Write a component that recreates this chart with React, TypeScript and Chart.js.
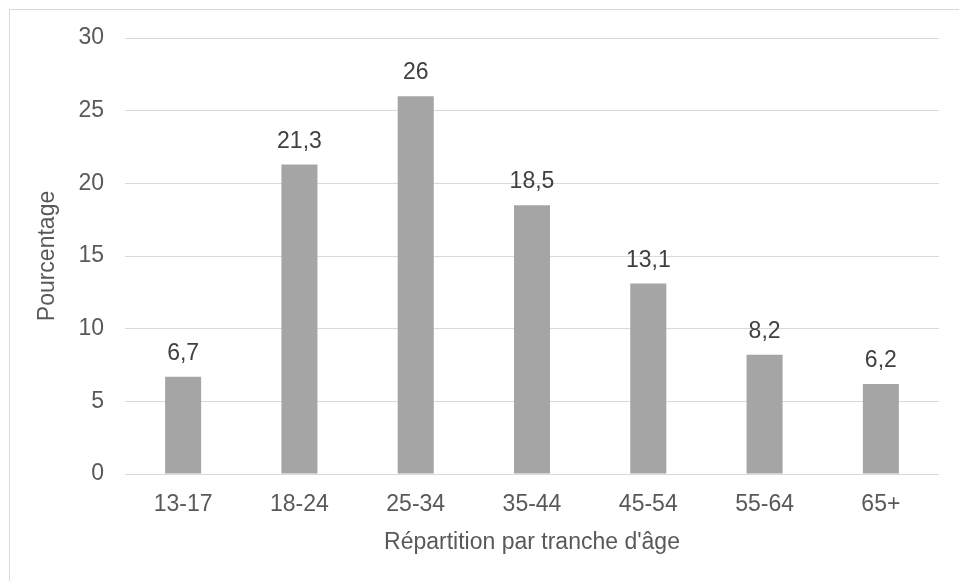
import React, { useEffect, useRef } from "react";
import { Chart, registerables } from "chart.js";

Chart.register(...registerables);

const categories = ["13-17", "18-24", "25-34", "35-44", "45-54", "55-64", "65+"];
const values = [6.7, 21.3, 26, 18.5, 13.1, 8.2, 6.2];
const valueLabels = ["6,7", "21,3", "26", "18,5", "13,1", "8,2", "6,2"];
const yTicks = [0, 5, 10, 15, 20, 25, 30];

const FONT = "'Liberation Sans', Arial, sans-serif";
const FS = 23;

const dataLabelPlugin = {
  id: "dataLabels",
  afterDatasetsDraw(chart: any) {
    const ctx = chart.ctx;
    const meta = chart.getDatasetMeta(0);
    ctx.save();
    ctx.font = `${FS}px ${FONT}`;
    ctx.fillStyle = "#404040";
    ctx.textAlign = "center";
    ctx.textBaseline = "middle";
    meta.data.forEach((bar: any, i: number) => {
      ctx.fillText(valueLabels[i], bar.x, bar.y - 23);
    });
    ctx.restore();
  },
};

export default function App() {
  const ref = useRef<HTMLCanvasElement | null>(null);
  useEffect(() => {
    document.body.style.margin = "0";
    const chart = new Chart(ref.current!, {
      type: "bar",
      data: {
        labels: categories,
        datasets: [
          {
            data: values,
            backgroundColor: "#a5a5a5",
            barPercentage: 0.62,
            categoryPercentage: 0.5,
          },
        ],
      },
      options: {
        animation: false,
        responsive: false,
        maintainAspectRatio: false,
        layout: { padding: { left: 0, top: 38, right: 20, bottom: 0 } },
        plugins: { legend: { display: false }, tooltip: { enabled: false } },
        scales: {
          x: {
            grid: { display: false, drawTicks: false },
            border: { display: false },
            ticks: {
              color: "#595959",
              font: { family: FONT, size: FS },
              padding: 17,
              maxRotation: 0,
            },
            title: {
              display: true,
              text: "Répartition par tranche d'âge",
              color: "#595959",
              font: { family: FONT, size: FS },
              padding: { top: 0, bottom: 25 },
            },
            afterFit: (s: any) => {
              s.height = 107;
            },
          },
          y: {
            min: 0,
            max: 30,
            afterBuildTicks: (s: any) => {
              s.ticks = yTicks.map((v) => ({ value: v }));
            },
            grid: { color: "#d9d9d9", lineWidth: 1, drawTicks: false },
            border: { display: false },
            ticks: {
              color: "#595959",
              font: { family: FONT, size: FS },
              padding: 21,
            },
            title: {
              display: true,
              text: "Pourcentage",
              color: "#595959",
              font: { family: FONT, size: FS },
              padding: { top: 34, bottom: 0 },
            },
            afterFit: (s: any) => {
              s.width = 125;
            },
          },
        },
      },
      plugins: [dataLabelPlugin],
    });
    return () => chart.destroy();
  }, []);
  return (
    <div style={{ position: "relative", width: 959, height: 581, overflow: "hidden", background: "#fff" }}>
      <div
        style={{
          position: "absolute",
          left: 9,
          top: 9,
          width: 1000,
          height: 1000,
          border: "1px solid #d9d9d9",
          boxSizing: "border-box",
        }}
      />
      <canvas ref={ref} width={959} height={581} style={{ position: "absolute", left: 0, top: 0 }} />
    </div>
  );
}
